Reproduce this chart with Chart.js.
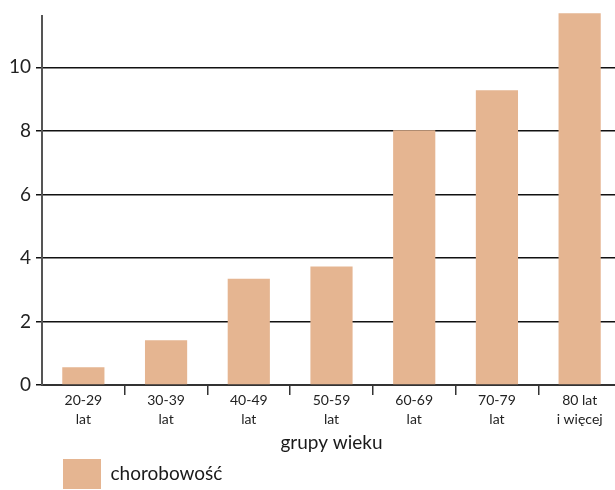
<!DOCTYPE html>
<html>
<head>
<meta charset="utf-8">
<script src="https://cdn.jsdelivr.net/npm/chart.js@4.4.1/dist/chart.umd.min.js"></script>
<style>
  html, body { margin: 0; padding: 0; background: #fff; overflow: hidden; }
  #wrap { width: 615px; height: 490px; overflow: hidden; }
</style>
</head>
<body>
<div id="wrap"><canvas id="myBarChart" width="621" height="499"></canvas></div>
<script>
var categories = [
  ['20-29', 'lat'], ['30-39', 'lat'], ['40-49', 'lat'], ['50-59', 'lat'],
  ['60-69', 'lat'], ['70-79', 'lat'], ['80 lat', 'i więcej']
];
var chorobowosc = [0.56, 1.41, 3.35, 3.73, 8.02, 9.28, 11.7];
var yTicks = [0, 2, 4, 6, 8, 10];
var seriesName = 'chorobowość';
var axisTitle = 'grupy wieku';

document.addEventListener('DOMContentLoaded', function() {
  var ctx = document.getElementById('myBarChart').getContext('2d');

  // move the legend so its box sits under the first bar
  var legendShift = {
    id: 'legendShift',
    afterLayout: function(chart) {
      chart.legend.left = 58;
    }
  };

  var myBarChart = new Chart(ctx, {
    type: 'bar',
    data: {
      labels: categories,
      datasets: [{
        label: seriesName,
        data: chorobowosc,
        backgroundColor: '#e5b591',
        borderWidth: 0,
        barPercentage: 0.51,
        categoryPercentage: 1,
        clip: false
      }]
    },
    options: {
      responsive: false,
      animation: false,
      layout: { padding: { top: 14, left: 0, right: 0, bottom: 0 } },
      plugins: {
        tooltip: { enabled: false },
        legend: {
          position: 'bottom',
          align: 'start',
          labels: {
            boxWidth: 38,
            boxHeight: 30,
            padding: 5,
            color: '#1a1a1a',
            font: { family: 'Lato', size: 19 }
          }
        }
      },
      scales: {
        x: {
          offset: true,
          grid: {
            offset: true,
            drawOnChartArea: false,
            tickLength: 10,
            lineWidth: 1.5,
            color: function(c) { return c.index === 0 ? 'rgba(0,0,0,0)' : '#333'; }
          },
          border: { color: '#333', width: 2 },
          ticks: {
            color: '#222',
            padding: -4,
            maxRotation: 0,
            autoSkip: false,
            font: { family: 'Lato', size: 14, lineHeight: 1.36 }
          },
          title: {
            display: true,
            text: axisTitle,
            color: '#1a1a1a',
            padding: { top: 6, bottom: 0 },
            font: { family: 'Lato', size: 19 }
          }
        },
        y: {
          min: 0,
          max: 11.6,
          afterBuildTicks: function(scale) {
            scale.ticks = yTicks.map(function(v) { return { value: v }; });
          },
          afterFit: function(scale) {
            scale.width = 42;
          },
          grid: {
            color: '#111',
            lineWidth: 1.5,
            tickLength: 6
          },
          border: { color: '#555', width: 2 },
          ticks: {
            color: '#222',
            padding: 5,
            font: { family: 'Lato', size: 19 }
          }
        }
      }
    },
    plugins: [legendShift]
  });
});
</script>
</body>
</html>
